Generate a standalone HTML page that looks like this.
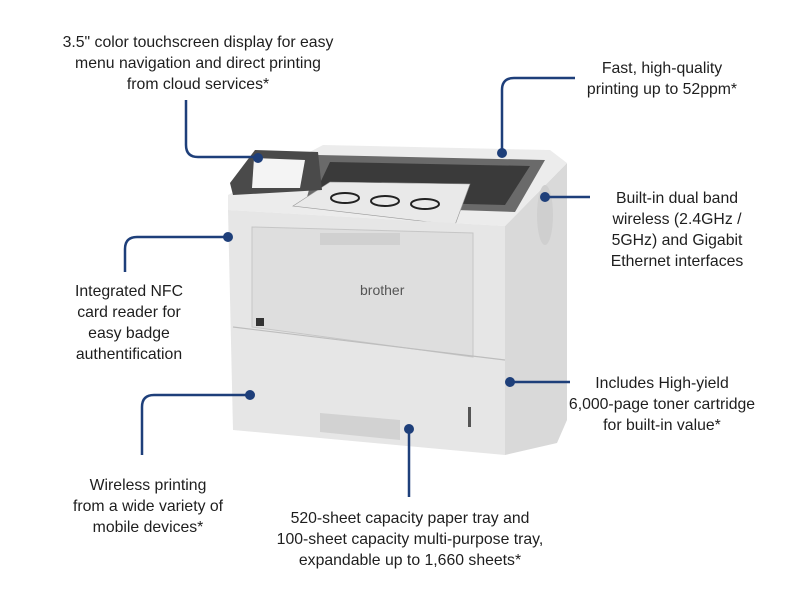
<!DOCTYPE html>
<html><head><meta charset="utf-8"><style>
html,body{margin:0;padding:0;background:#fff;}
svg{display:block}
text{font-family:"Liberation Sans",sans-serif;font-size:15.8px;fill:#1e1e1e;}
</style></head><body>
<svg width="800" height="600" viewBox="0 0 800 600">
<polygon points="505,226 567,163 567,420 557,443 505,455" fill="#d9d9d9"/>
<polygon points="228,195 323,145 550,150 567,163 505,226 228,210" fill="#ececec"/>
<polygon points="318,155 545,160 515,212 305,205" fill="#6a6a6a"/>
<polygon points="330,162 530,166 505,205 312,200" fill="#3a3a3a"/>
<polygon points="293,206 330,182 470,184 455,225" fill="#e9e9e9" stroke="#999" stroke-width="0.6"/>
<ellipse cx="345" cy="198" rx="14" ry="5" fill="none" stroke="#222" stroke-width="2"/>
<ellipse cx="385" cy="201" rx="14" ry="5" fill="none" stroke="#222" stroke-width="2"/>
<ellipse cx="425" cy="204" rx="14" ry="5" fill="none" stroke="#222" stroke-width="2"/>
<polygon points="230,183 255,150 318,152 322,190 233,195" fill="#4a4a4a"/>
<polygon points="254,158 305,160 300,188 252,188" fill="#f4f4f4"/>
<polygon points="228,210 505,226 505,455 233,430" fill="#e6e6e6"/>
<polygon points="252,227 473,233 473,357 252,327" fill="#dedede" stroke="#c6c6c6" stroke-width="1"/>
<rect x="320" y="233" width="80" height="12" fill="#d0d0d0"/>
<text x="360" y="295" style="font-size:14px;fill:#555">brother</text>
<rect x="256" y="318" width="8" height="8" fill="#333"/>
<line x1="233" y1="327" x2="505" y2="360" stroke="#bdbdbd" stroke-width="1.2"/>
<polygon points="320,413 400,420 400,440 320,432" fill="#d2d2d2"/>
<rect x="468" y="407" width="3" height="20" fill="#555"/>
<ellipse cx="545" cy="215" rx="8" ry="30" fill="#cfcfcf"/>
<g stroke="#1e3f7a" stroke-width="2.5" fill="none">
<path d="M186,100 V145 Q186,157 198,157 H258"/>
<path d="M502,153 V90 Q502,78 514,78 H575"/>
<path d="M545,197 H590"/>
<path d="M228,237 H137 Q125,237 125,249 V272"/>
<path d="M250,395 H154 Q142,395 142,407 V455"/>
<path d="M409,429 V497"/>
<path d="M510,382 H570"/>
</g>
<g fill="#1e3f7a">
<circle cx="258" cy="158" r="5"/><circle cx="502" cy="153" r="5"/>
<circle cx="545" cy="197" r="5"/><circle cx="228" cy="237" r="5"/>
<circle cx="250" cy="395" r="5"/><circle cx="409" cy="429" r="5"/>
<circle cx="510" cy="382" r="5"/>
</g>
<g text-anchor="middle">
<text x="198" y="47">3.5" color touchscreen display for easy</text>
<text x="198" y="68">menu navigation and direct printing</text>
<text x="198" y="89">from cloud services*</text>
<text x="662" y="73">Fast, high-quality</text>
<text x="662" y="94">printing up to 52ppm*</text>
<text x="677" y="203">Built-in dual band</text>
<text x="677" y="224">wireless (2.4GHz /</text>
<text x="677" y="245">5GHz) and Gigabit</text>
<text x="677" y="266">Ethernet interfaces</text>
<text x="129" y="296">Integrated NFC</text>
<text x="129" y="317">card reader for</text>
<text x="129" y="338">easy badge</text>
<text x="129" y="359">authentification</text>
<text x="662" y="388">Includes High-yield</text>
<text x="662" y="409">6,000-page toner cartridge</text>
<text x="662" y="430">for built-in value*</text>
<text x="148" y="490">Wireless printing</text>
<text x="148" y="511">from a wide variety of</text>
<text x="148" y="532">mobile devices*</text>
<text x="410" y="523">520-sheet capacity paper tray and</text>
<text x="410" y="544">100-sheet capacity multi-purpose tray,</text>
<text x="410" y="565">expandable up to 1,660 sheets*</text>
</g>
</svg>
</body></html>
